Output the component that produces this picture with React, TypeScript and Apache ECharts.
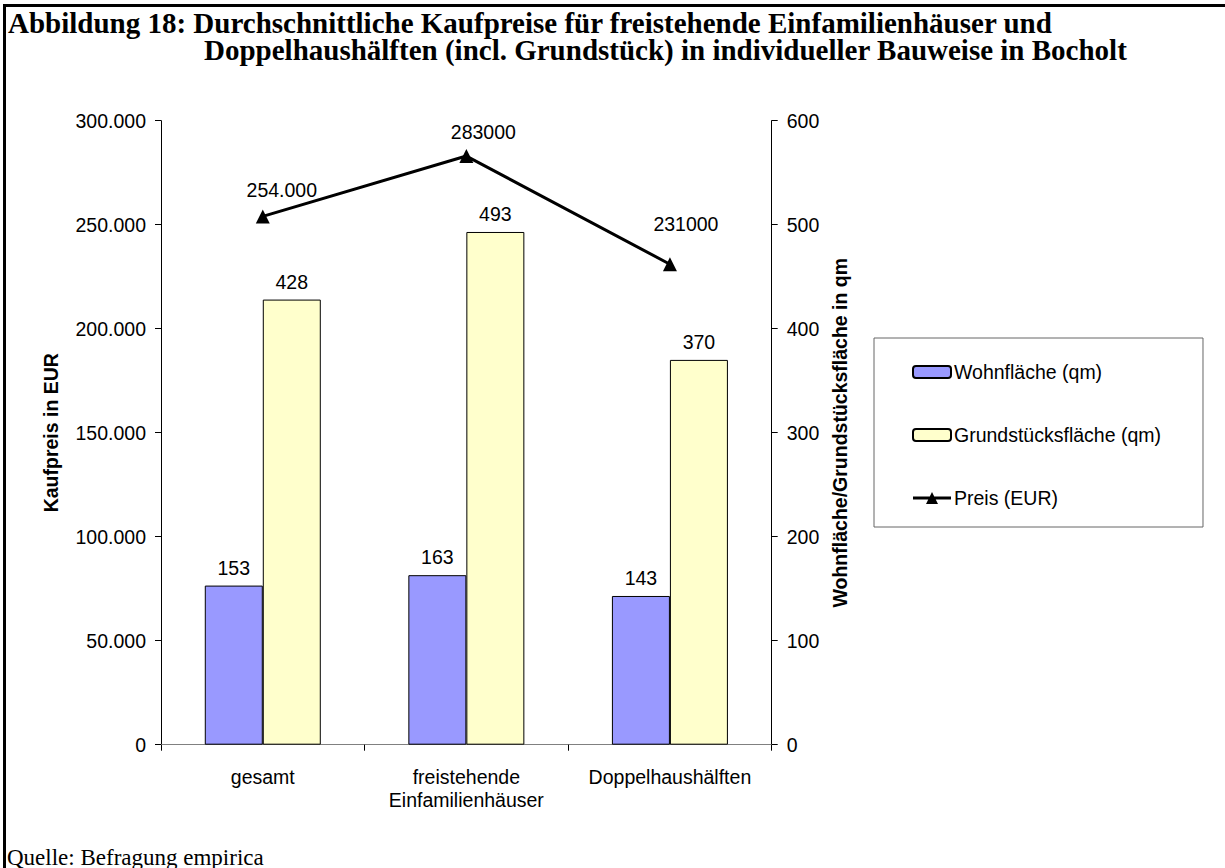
import React, { useEffect, useRef } from "react";
import * as echarts from "echarts";

const categories = ["gesamt", "freistehende\nEinfamilienhäuser", "Doppelhaushälften"];
const wohnflaeche = [153, 163, 143];
const grundstueck = [428, 493, 370];
const preis = [254000, 283000, 231000];
const preisLabels = ["254.000", "283000", "231000"];
const preisLabelOffsets = [[19, -26], [17, -24], [16, -40]];
const leftTickLabels = ["0", "50.000", "100.000", "150.000", "200.000", "250.000", "300.000"];
const rightTickLabels = ["0", "100", "200", "300", "400", "500", "600"];

const SANS = "'Liberation Sans', Arial, sans-serif";
const SERIF = "'Liberation Serif', 'Times New Roman', serif";
const FS = 19.5;
const LINE_ICON =
  "path://M0,4.5 L16.75,4.5 L19,0 L21.25,4.5 L38,4.5 L38,7.5 L22.75,7.5 L25,12 L13,12 L15.25,7.5 L0,7.5 Z";

export default function App() {
  const ref = useRef<HTMLDivElement>(null);
  useEffect(() => {
    if (!ref.current) return;
    const chart = echarts.init(ref.current, null, { renderer: "svg" });
    const option = {
      animation: false,
      backgroundColor: "#ffffff",
      textStyle: { fontFamily: SANS, color: "#000" },
      grid: { left: 161, right: 1225 - 771.7, top: 120.7, bottom: 868 - 744.7, containLabel: false },
      legend: {
        orient: "vertical",
        left: 874,
        top: 338,
        padding: [24, 42, 19, 38],
        itemGap: 43,
        itemWidth: 38,
        itemHeight: 12,
        borderColor: "#666",
        borderWidth: 1,
        textStyle: { fontSize: FS, color: "#000", fontFamily: SANS, lineHeight: 20, padding: [0, 0, 0, -2] },
        data: [
          { name: "Wohnfläche (qm)" },
          { name: "Grundstücksfläche (qm)" },
          { name: "Preis (EUR)", icon: LINE_ICON, itemStyle: { color: "#000", borderWidth: 0 } },
        ],
      },
      xAxis: [
        {
          type: "category",
          data: categories,
          position: "bottom",
          axisLine: { lineStyle: { color: "#000", width: 1 } },
          axisTick: { show: true, length: 6, interval: 0, lineStyle: { color: "#000" } },
          axisLabel: { color: "#000", fontSize: FS, fontFamily: SANS, margin: 21, lineHeight: 23, interval: 0 },
          splitLine: { show: false },
        },
        {
          type: "category",
          data: categories,
          position: "top",
          axisLine: { lineStyle: { color: "#808080", width: 1 } },
          axisTick: { show: false },
          axisLabel: { show: false },
          splitLine: { show: false },
        },
      ],
      yAxis: [
        {
          type: "value",
          min: 0,
          max: 300000,
          interval: 50000,
          position: "left",
          name: "Kaufpreis in EUR",
          nameLocation: "middle",
          nameRotate: 90,
          nameGap: 100,
          nameTextStyle: { fontSize: FS, fontWeight: "bold", color: "#000", fontFamily: SANS },
          axisLine: { show: true, lineStyle: { color: "#000", width: 1 } },
          axisTick: { show: true, length: 6, lineStyle: { color: "#000" } },
          axisLabel: {
            color: "#000",
            fontSize: FS,
            fontFamily: SANS,
            margin: 15,
            formatter: (v: number) => leftTickLabels[Math.round(v / 50000)],
          },
          splitLine: { show: false },
        },
        {
          type: "value",
          min: 0,
          max: 600,
          interval: 100,
          position: "right",
          name: "Wohnfläche/Grundstücksfläche in qm",
          nameLocation: "middle",
          nameRotate: 90,
          nameGap: 58,
          nameTextStyle: { fontSize: FS, fontWeight: "bold", color: "#000", fontFamily: SANS },
          axisLine: { show: true, lineStyle: { color: "#000", width: 1 } },
          axisTick: { show: true, length: 6, lineStyle: { color: "#000" } },
          axisLabel: {
            color: "#000",
            fontSize: FS,
            fontFamily: SANS,
            margin: 15,
            formatter: (v: number) => rightTickLabels[Math.round(v / 100)],
          },
          splitLine: { show: false },
        },
      ],
      series: [
        {
          name: "Wohnfläche (qm)",
          type: "bar",
          xAxisIndex: 0,
          yAxisIndex: 1,
          data: wohnflaeche,
          barWidth: 58,
          barGap: "0%",
          itemStyle: { color: "#9999FF", borderColor: "#000", borderWidth: 1 },
          label: { show: true, position: "top", distance: 8, color: "#000", fontSize: FS, fontFamily: SANS },
        },
        {
          name: "Grundstücksfläche (qm)",
          type: "bar",
          xAxisIndex: 0,
          yAxisIndex: 1,
          data: grundstueck,
          barWidth: 58,
          barGap: "0%",
          itemStyle: { color: "#FFFFCC", borderColor: "#000", borderWidth: 1 },
          label: { show: true, position: "top", distance: 8, color: "#000", fontSize: FS, fontFamily: SANS },
        },
        {
          name: "Preis (EUR)",
          type: "line",
          xAxisIndex: 0,
          yAxisIndex: 0,
          data: preis.map((v, i) => ({
            value: v,
            label: { offset: preisLabelOffsets[i] },
          })),
          symbol: "triangle",
          symbolSize: 14,
          lineStyle: { color: "#000", width: 3 },
          itemStyle: { color: "#000" },
          label: {
            show: true,
            position: "inside",
            color: "#000",
            fontSize: FS,
            fontFamily: SANS,
            formatter: (p: any) => preisLabels[p.dataIndex],
          },
          z: 5,
        },
      ],
      graphic: [
        {
          type: "rect",
          shape: { x: 4.5, y: 5.5, width: 1400, height: 1000 },
          style: { fill: "none", stroke: "#000", lineWidth: 3 },
          silent: true,
        },
        {
          type: "text",
          x: 8,
          y: 22.7,
          style: {
            text: "Abbildung 18: Durchschnittliche Kaufpreise für freistehende Einfamilienhäuser und",
            font: `bold 29px ${SERIF}`,
            lineHeight: 24,
            fill: "#000",
            verticalAlign: "middle",
          },
        },
        {
          type: "text",
          x: 204,
          y: 49.7,
          style: {
            text: "Doppelhaushälften (incl. Grundstück) in individueller Bauweise in Bocholt",
            font: `bold 29px ${SERIF}`,
            lineHeight: 24,
            fill: "#000",
            verticalAlign: "middle",
          },
        },
        {
          type: "text",
          x: 7,
          y: 857,
          style: {
            text: "Quelle: Befragung empirica",
            font: `23px ${SERIF}`,
            fill: "#000",
            verticalAlign: "middle",
          },
        },
      ],
    };
    chart.setOption(option as any);
    return () => chart.dispose();
  }, []);
  return <div ref={ref} style={{ position: "absolute", left: 0, top: 0, width: 1225, height: 868 }} />;
}
